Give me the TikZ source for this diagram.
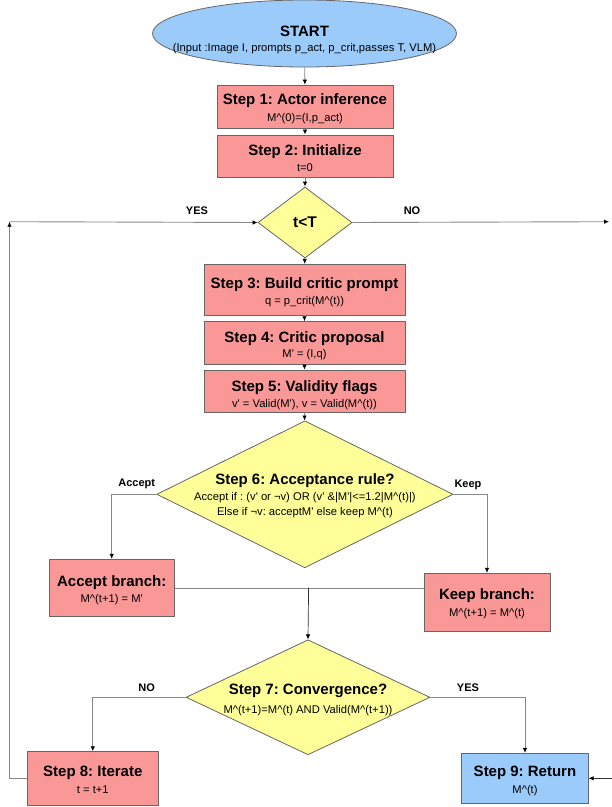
\documentclass[tikz,border=0pt]{standalone}
\usepackage{fontspec}
\setmainfont{Liberation Sans}
\usetikzlibrary{shapes.geometric,arrows.meta}

\definecolor{stepfill}{RGB}{250,152,152}
\definecolor{bluefill}{RGB}{155,203,250}
\definecolor{decfill}{RGB}{255,255,153}
\definecolor{edgegray}{RGB}{102,102,102}
\definecolor{wire}{RGB}{136,136,136}

\newcommand\qs{\textquotesingle}
\newcommand\crt{\textasciicircum}
\frenchspacing

\begin{document}
\begin{tikzpicture}[x=1pt,y=-1pt,
  stepbox/.style={draw=edgegray, fill=stepfill, line width=0.8pt, inner sep=0pt},
  retbox/.style={stepbox, fill=bluefill},
  decision/.style={diamond, draw=edgegray, fill=decfill, line width=0.8pt, inner sep=0pt},
  startnode/.style={ellipse, draw=edgegray, fill=bluefill, line width=0.8pt, inner sep=0pt},
  ttl/.style={font=\fontsize{15}{18}\selectfont\bfseries, inner sep=0pt, text height=10.7pt, text depth=0pt},
  sub/.style={font=\fontsize{11.2}{13}\selectfont, inner sep=0pt, text height=8pt, text depth=0pt},
  lbl/.style={font=\fontsize{11}{13}\selectfont\bfseries, inner sep=0pt, text height=7.9pt, text depth=0pt},
  flow/.style={draw=wire, line width=0.9pt, -{Latex[length=5pt,width=4.5pt,color=black]}},
  plain/.style={draw=wire, line width=0.9pt},
  dark/.style={draw=black!80, line width=0.7pt, -{Latex[length=5pt,width=4.5pt,color=black]}}
]
\useasboundingbox (0,0) rectangle (612,807);

% ---- shapes ----
\node[startnode, minimum width=304pt, minimum height=67pt] (start) at (304.5,33.5) {};
\node[stepbox, minimum width=176pt, minimum height=43.3pt] (s1) at (305,106.7) {};
\node[stepbox, minimum width=176pt, minimum height=42pt] (s2) at (305,156) {};
\node[decision, minimum width=94pt, minimum height=71pt] (d1) at (305,222.5) {};
\node[stepbox, minimum width=201pt, minimum height=50.7pt] (s3) at (304.5,289.7) {};
\node[stepbox, minimum width=201pt, minimum height=42.6pt] (s4) at (304.5,343) {};
\node[stepbox, minimum width=201pt, minimum height=42pt] (s5) at (304.5,391) {};
\node[decision, minimum width=296.3pt, minimum height=147pt] (d6) at (304.9,494.3) {};
\node[stepbox, minimum width=125.3pt, minimum height=57.4pt] (acc) at (111.7,588) {};
\node[stepbox, minimum width=126pt, minimum height=57.7pt] (keep) at (487,602.2) {};
\node[decision, minimum width=244pt, minimum height=115pt] (d7) at (308,697.3) {};
\node[stepbox, minimum width=131pt, minimum height=53.3pt] (s8) at (92.8,778.3) {};
\node[retbox, minimum width=126.6pt, minimum height=50pt] (s9) at (525,778.3) {};

% ---- texts ----
\node[ttl] (startT) at (304.5,31) {START};
\node[sub] (startS) at (304.5,47.5) {(Input :Image I, prompts p\_act, p\_crit,passes T, VLM)};
\node[ttl] (s1T) at (305,99) {Step 1: Actor inference};
\node[sub] (s1S) at (305,117) {M\crt(0)=(I,p\_act)};
\node[ttl] (s2T) at (305,150) {Step 2: Initialize};
\node[sub] (s2S) at (305,167.5) {t=0};
\node[ttl, font=\fontsize{15.5}{18}\selectfont\bfseries] (d1T) at (305,222.5) {t<T};
\node[ttl] (s3T) at (304.5,283.3) {Step 3: Build critic prompt};
\node[sub] (s3S) at (304.5,300) {q = p\_crit(M\crt(t))};
\node[ttl] (s4T) at (304.5,336.7) {Step 4: Critic proposal};
\node[sub] (s4S) at (304.5,353.5) {M\qs{} = (I,q)};
\node[ttl] (s5T) at (304.5,385.8) {Step 5: Validity flags};
\node[sub] (s5S) at (304.5,403) {v\qs{} = Valid(M\qs), v = Valid(M\crt(t))};
\node[ttl] (d6T) at (304.9,479) {Step 6: Acceptance rule?};
\node[sub] (d6A) at (304.9,496) {Accept if : (v\qs{} or ¬v) OR (v\qs{} \&|M\qs|<=1.2|M\crt(t)|)};
\node[sub] (d6B) at (304.9,511.5) {Else if ¬v: acceptM\qs{} else keep M\crt(t)};
\node[ttl] (accT) at (111.7,581) {Accept branch:};
\node[sub] (accS) at (111.7,598.5) {M\crt(t+1) = M\qs};
\node[ttl] (keepT) at (487,594.5) {Keep branch:};
\node[sub] (keepS) at (487,612.5) {M\crt(t+1) = M\crt(t)};
\node[ttl] (d7T) at (308,689) {Step 7: Convergence?};
\node[sub] (d7S) at (308,709.5) {M\crt(t+1)=M\crt(t) AND Valid(M\crt(t+1))};
\node[ttl] (s8T) at (92.8,771) {Step 8: Iterate};
\node[sub] (s8S) at (92.8,789) {t = t+1};
\node[ttl] (s9T) at (525,771) {Step 9: Return};
\node[sub] (s9S) at (525,789) {M\crt(t)};

% ---- branch labels ----
\node[lbl] (yes1) at (197,211) {YES};
\node[lbl] (no1) at (412,211) {NO};
\node[lbl] (lacc) at (136.7,483) {Accept};
\node[lbl] (lkeep) at (468,484) {Keep};
\node[lbl] (no7) at (146.7,687.7) {NO};
\node[lbl] (yes7) at (468,687.3) {YES};

% ---- free ends ----
\coordinate (loopc) at (9.5,221.7);
\coordinate (exitR) at (609,221.7);
\coordinate (entR) at (612,778.3);
\coordinate (mrg) at (308.6,587.7);

% ---- connectors ----
\draw[flow] (start) -- (s1);
\draw[flow] (s1) -- (s2);
\draw[flow] (s2) -- (d1);
\draw[flow] (d1) -- (s3);
\draw[flow] (s3) -- (s4);
\draw[flow] (s4) -- (s5);
\draw[flow] (s5) -- (d6);
\draw[flow] (d1.east) -- (exitR);
\draw[flow] (s8.west) -| (loopc);
\draw[flow] (loopc) -- (d1.west);
\draw[flow] (d6.west) -| (acc.north);
\draw[flow] (d6.east) -| (keep.north);
\draw[plain] (acc.east) -- (acc.east -| keep.west);
\draw[dark] (mrg) -- (d7.north);
\draw[flow] (d7.west) -| (s8.north);
\draw[flow] (d7.east) -| (s9.north);
\draw[dark] (entR) -- (s9.east);
\end{tikzpicture}
\end{document}
